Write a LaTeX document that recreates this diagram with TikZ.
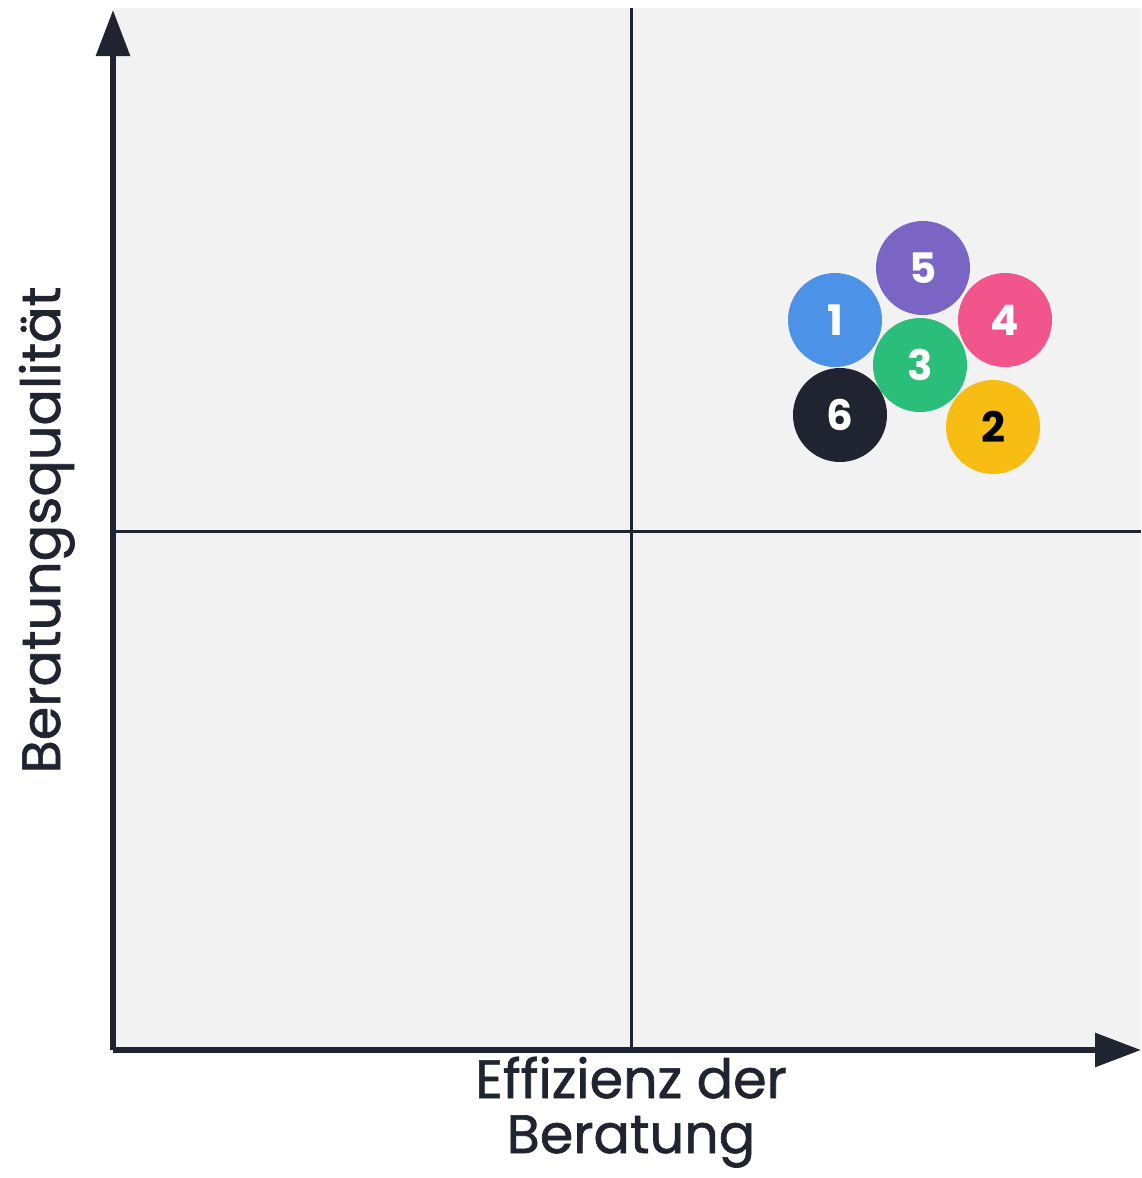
\documentclass[tikz,border=0pt]{standalone}
\usepackage{fontspec}
\setmainfont{Poppins}
\newfontfamily\labelfont[FakeBold=1.2]{Poppins}
\usetikzlibrary{arrows.meta}

\definecolor{axisdark}{HTML}{1F2430}
\definecolor{panelgray}{HTML}{F2F2F2}
\definecolor{dotblue}{HTML}{4C92E6}
\definecolor{dotpurple}{HTML}{7A64C4}
\definecolor{dotpink}{HTML}{F2558B}
\definecolor{dotgreen}{HTML}{2BBE7A}
\definecolor{dotyellow}{HTML}{F8BD12}

\begin{document}
\begin{tikzpicture}[x=0.5pt,y=-0.5pt]
\tikzstyle{axis} = [line width=3pt,axisdark,-{Triangle[length=23pt,width=16.5pt]}]
\tikzstyle{midline} = [line width=1.5pt,axisdark]
\tikzstyle{dot} = [circle,minimum size=47pt,inner sep=0pt,text=white,font=\fontsize{21}{21}\selectfont\bfseries]
\tikzstyle{axislabel} = [text=axisdark,font=\labelfont\fontsize{27}{27.5}\selectfont]

\useasboundingbox (0,0) rectangle (1141,1178);
\fill[panelgray] (113,8) rectangle (1141,1050);

% axes
\coordinate (O) at (113,1050);
\coordinate (Ytip) at (113,10);
\coordinate (Xtip) at (1141,1050);
\coordinate (Mtop) at (631,8);
\coordinate (Mbot) at (631,1050);
\coordinate (Mleft) at (113,531);
\coordinate (Mright) at (1141,531);

\draw [midline] (Mtop) -- (Mbot);
\draw [midline] (Mleft) -- (Mright);
\draw [axis] (O) -- (Ytip);
\draw [axis] (O) -- (Xtip);

% labels
\node [axislabel,align=center,anchor=base] (xlabel) at (631,1153) {Effizienz der\\Beratung};
\node [axislabel,rotate=90,anchor=base] (ylabel) at (60,530) {Beratungsqualität};

% dots
\node [dot,fill=dotblue] (d1) at (835,320) {1};
\node [dot,fill=dotpurple] (d5) at (923,268) {5};
\node [dot,fill=dotpink] (d4) at (1005,320) {4};
\node [dot,fill=dotgreen] (d3) at (920,365) {3};
\node [dot,fill=axisdark] (d6) at (840,415) {6};
\node [dot,fill=dotyellow,text=black] (d2) at (993,427) {2};

\end{tikzpicture}
\end{document}
